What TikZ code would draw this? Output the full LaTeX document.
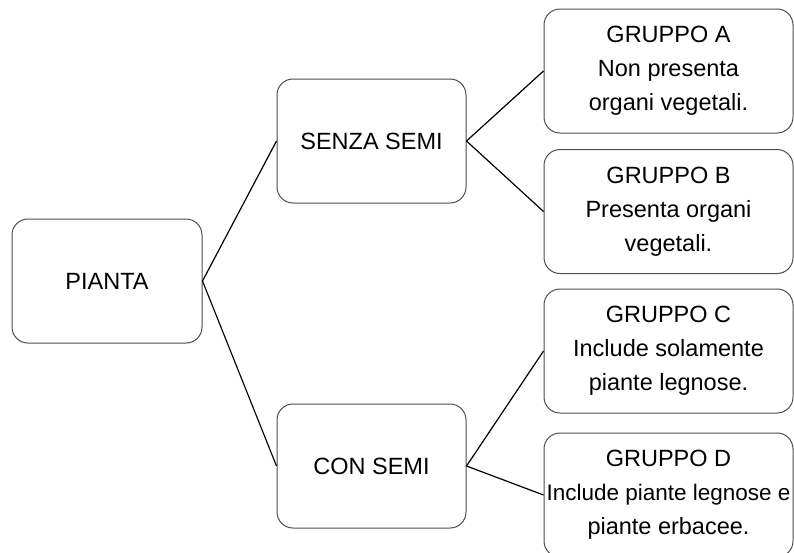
\documentclass[tikz,border=0pt]{standalone}
\usepackage{fontspec}
\setmainfont{Liberation Sans}
\begin{document}
\begin{tikzpicture}[x=1pt,y=-1pt,
  box/.style={draw=black!70, line width=1pt, rounded corners=16pt, inner sep=0pt,
    align=center, font=\fontsize{23.5}{34}\selectfont},
  parent/.style={box, minimum width=190pt, minimum height=124pt},
  leaf/.style={box, minimum width=249pt, minimum height=124pt},
  conn/.style={draw=black, line width=1.2pt}]
\useasboundingbox (0,0) rectangle (794,552);
\node[parent] (pianta) at (107,281) {PIANTA};
\node[parent, minimum width=189pt] (senza) at (371.5,141) {SENZA SEMI};
\node[parent, minimum width=189pt] (con) at (371.5,466) {CON SEMI};
\node[leaf] (ga) at (668.5,71) {GRUPPO A\\Non presenta\\organi vegetali.};
\node[leaf] (gb) at (668.5,211.5) {GRUPPO B\\Presenta organi\\vegetali.};
\node[leaf] (gc) at (668.5,351) {GRUPPO C\\Include solamente\\piante legnose.};
\node[leaf] (gd) at (668.5,495) {GRUPPO D\\\makebox[240pt][c]{\fontsize{22.5}{34}\selectfont Include piante legnose e}\\piante erbacee.};
\draw[conn] (pianta.east) -- (senza.west);
\draw[conn] (pianta.east) -- (con.west);
\draw[conn] (senza.east) -- (ga.west);
\draw[conn] (senza.east) -- (gb.west);
\draw[conn] (con.east) -- (gc.west);
\draw[conn] (con.east) -- (gd.west);
\end{tikzpicture}
\end{document}
